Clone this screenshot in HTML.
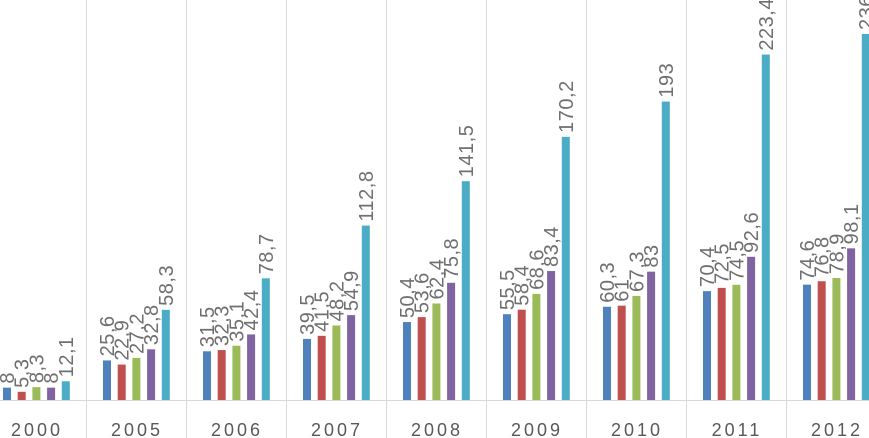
<!DOCTYPE html>
<html><head><meta charset="utf-8"><style>
html,body{margin:0;padding:0;background:#fff;}
svg{display:block;font-family:"Liberation Sans",sans-serif;}
</style></head><body>
<svg id="chart" width="869" height="438"></svg>
<script>
const categories=["2000","2005","2006","2007","2008","2009","2010","2011","2012"];
const s1=[8,25.6,31.5,39.5,50.4,55.5,60.3,70.4,74.6];
const s2=[5.3,22.9,32.3,41.5,53.6,58.4,61,72.5,76.8];
const s3=[8.3,27.2,35.1,48.2,62.4,68.6,67.3,74.5,78.9];
const s4=[8,32.8,42.4,54.9,75.8,83.4,83,92.6,98.1];
const s5=[12.1,58.3,78.7,112.8,141.5,170.2,193,223.4,236.7];
const series=[s1,s2,s3,s4,s5];
const colors=["#4f81bd","#c0504d","#9bbb59","#8064a2","#4bacc6"];
const svg=document.getElementById('chart');
const NS="http://www.w3.org/2000/svg";
const base=400, scale=366/236.7, x0=-14, gw=100;
function y(v){return base-v*scale;}
function gx(i){return x0+i*gw;}
function mk(t,a,p){const e=document.createElementNS(NS,t);for(const k in a)e.setAttribute(k,a[k]);(p||svg).appendChild(e);return e;}
for(let i=1;i<categories.length;i++){
  const l=mk('line',{x1:gx(i)+0.5,x2:gx(i)+0.5,y1:0,y2:438,stroke:'#d9d9d9','stroke-width':1});
  
  
}
const ax=mk('line',{x1:0,x2:869,y1:base+0.5,y2:base+0.5,stroke:'#d9d9d9','stroke-width':1});


categories.forEach((c,i)=>{
  series.forEach((s,j)=>{
    const bx=gx(i)+17+j*14.7;
    const r=mk('rect',{x:bx,y:y(s[i]),width:8,height:base-y(s[i]),fill:colors[j]});
    
    
    const tx=bx+4+7, ty=y(s[i])-4;
    const t=mk('text',{x:tx,y:ty,transform:'rotate(-90 '+tx+' '+ty+')','font-size':20,fill:'#6f6f6f','letter-spacing':0.5});
    t.textContent=String(s[i]).replace('.',',');
    
    
  });
  const t=mk('text',{x:gx(i)+gw/2+1,y:436,'text-anchor':'middle','font-size':18,fill:'#595959','letter-spacing':3});
  t.textContent=c;
  
  
});
</script>
</body></html>
